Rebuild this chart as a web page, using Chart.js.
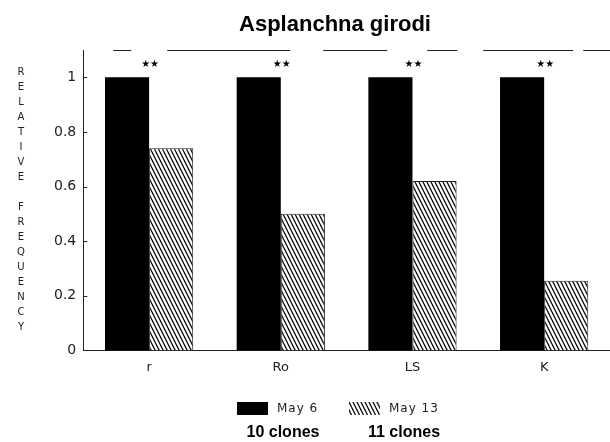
<!DOCTYPE html>
<html>
<head>
<meta charset="utf-8">
<script src="https://cdn.jsdelivr.net/npm/chart.js@4.4.0/dist/chart.umd.min.js"></script>
<style>
  html, body { margin: 0; padding: 0; background: #fff; }
</style>
</head>
<body>
<canvas id="chart" width="610" height="442"></canvas>
<script>
// data
const categories = ['r', 'Ro', 'LS', 'K'];
const may6 = [1.0, 1.0, 1.0, 1.0];
const may13 = [0.74, 0.50, 0.62, 0.255];
const seriesLabels = ['May 6', 'May 13'];
const cloneCounts = ['10 clones', '11 clones'];
const sigMarks = ['**', '**', '**', '**'];
const yTicks = [0, 0.2, 0.4, 0.6, 0.8, 1];
const yTitle = 'RELATIVE FREQUENCY';
const chartTitle = 'Asplanchna girodi';

// diagonal hatch for the second series
function makeHatch() {
    const w = 4, h = 8;
    const c = document.createElement('canvas');
    c.width = w; c.height = h;
    const g = c.getContext('2d');
    g.fillStyle = '#fff';
    g.fillRect(0, 0, w, h);
    g.strokeStyle = '#111';
    g.lineWidth = 1.3;
    [-w, 0, w].forEach(dx => {
        g.beginPath();
        g.moveTo(dx - w, -h);
        g.lineTo(dx + 2 * w, 2 * h);
        g.stroke();
    });
    return g.createPattern(c, 'repeat');
}
const ctx = document.querySelector('#chart').getContext('2d');
const hatch = makeHatch();

const decorations = {
    id: 'decorations',
    afterDraw(chart) {
        const {ctx, chartArea, scales} = chart;
        const xs = scales.x, ys = scales.y;
        ctx.save();

        // title
        ctx.fillStyle = '#000';
        ctx.font = 'bold 22px "Liberation Sans", Arial, sans-serif';
        ctx.textAlign = 'center';
        ctx.textBaseline = 'middle';
        ctx.fillText(chartTitle, 335, 25);

        // stacked y axis title
        ctx.font = '10px "DejaVu Sans", sans-serif';
        ctx.fillStyle = '#222';
        for (let i = 0; i < yTitle.length; i++) {
            if (yTitle[i] !== ' ') ctx.fillText(yTitle[i], 21, 72 + i * 15);
        }

        // inner tick marks on y axis
        ctx.strokeStyle = '#222';
        ctx.lineWidth = 1;
        yTicks.forEach(v => {
            if (v === 0) return;
            const py = Math.round(ys.getPixelForValue(v)) + 0.5;
            ctx.beginPath();
            ctx.moveTo(chartArea.left, py);
            ctx.lineTo(chartArea.left + 4, py);
            ctx.stroke();
        });

        // broken top frame line
        ctx.setLineDash([18, 36, 123, 33, 64, 40, 30, 26, 90, 10, 27, 0]);
        ctx.beginPath();
        ctx.moveTo(chartArea.left + 30, chartArea.top + 0.5);
        ctx.lineTo(chartArea.right, chartArea.top + 0.5);
        ctx.stroke();
        ctx.setLineDash([]);

        // significance marks
        ctx.font = '10px "DejaVu Sans", sans-serif';
        ctx.fillStyle = '#000';
        sigMarks.forEach((m, i) => {
            const txt = m.replace(/\*/g, '★');
            ctx.fillText(txt, xs.getPixelForValue(i) + 1, ys.getPixelForValue(1.048));
        });

        // legend
        const ds = chart.data.datasets;
        const boxX = [237, 349];
        ds.forEach((d, i) => {
            ctx.fillStyle = d.backgroundColor;
            ctx.fillRect(boxX[i], 402, 31, 13);
            ctx.fillStyle = '#222';
            ctx.font = '12px "DejaVu Sans", sans-serif';
            ctx.textAlign = 'left';
            ctx.letterSpacing = '1px';
            ctx.fillText(d.label, boxX[i] + 40, 409);
            ctx.letterSpacing = '0px';
            ctx.font = 'bold 16px "Liberation Sans", Arial, sans-serif';
            ctx.fillStyle = '#000';
            ctx.textAlign = 'center';
            ctx.fillText(cloneCounts[i], boxX[i] + 46 + i * 9, 433);
        });
        ctx.restore();
    }
};

new Chart(ctx, {
    type: 'bar',
    data: {
        labels: categories,
        datasets: [{
            label: seriesLabels[0],
            data: may6,
            backgroundColor: '#000',
            borderWidth: 0,
            barPercentage: 1,
            categoryPercentage: 0.67
        }, {
            label: seriesLabels[1],
            data: may13,
            backgroundColor: hatch,
            borderColor: '#222',
            borderWidth: 1,
            barPercentage: 1,
            categoryPercentage: 0.67
        }]
    },
    options: {
        responsive: false,
        animation: false,
        layout: {padding: {top: 50, left: 47, right: 0, bottom: 58}},
        plugins: {
            legend: {display: false},
            title: {display: false},
            tooltip: {enabled: false}
        },
        scales: {
            x: {
                grid: {display: false, drawTicks: false},
                border: {color: '#222', width: 1},
                ticks: {color: '#222', font: {family: 'DejaVu Sans', size: 13}, padding: 9}
            },
            y: {
                min: 0,
                max: 1.1,
                afterBuildTicks: s => { s.ticks = yTicks.map(v => ({value: v})); },
                grid: {display: false, drawTicks: false},
                border: {color: '#222', width: 1},
                ticks: {
                    color: '#222',
                    font: {family: 'DejaVu Sans', size: 14},
                    padding: 7,
                    callback: v => String(+Number(v).toFixed(1))
                }
            }
        }
    },
    plugins: [decorations]
});
</script>
</body>
</html>
